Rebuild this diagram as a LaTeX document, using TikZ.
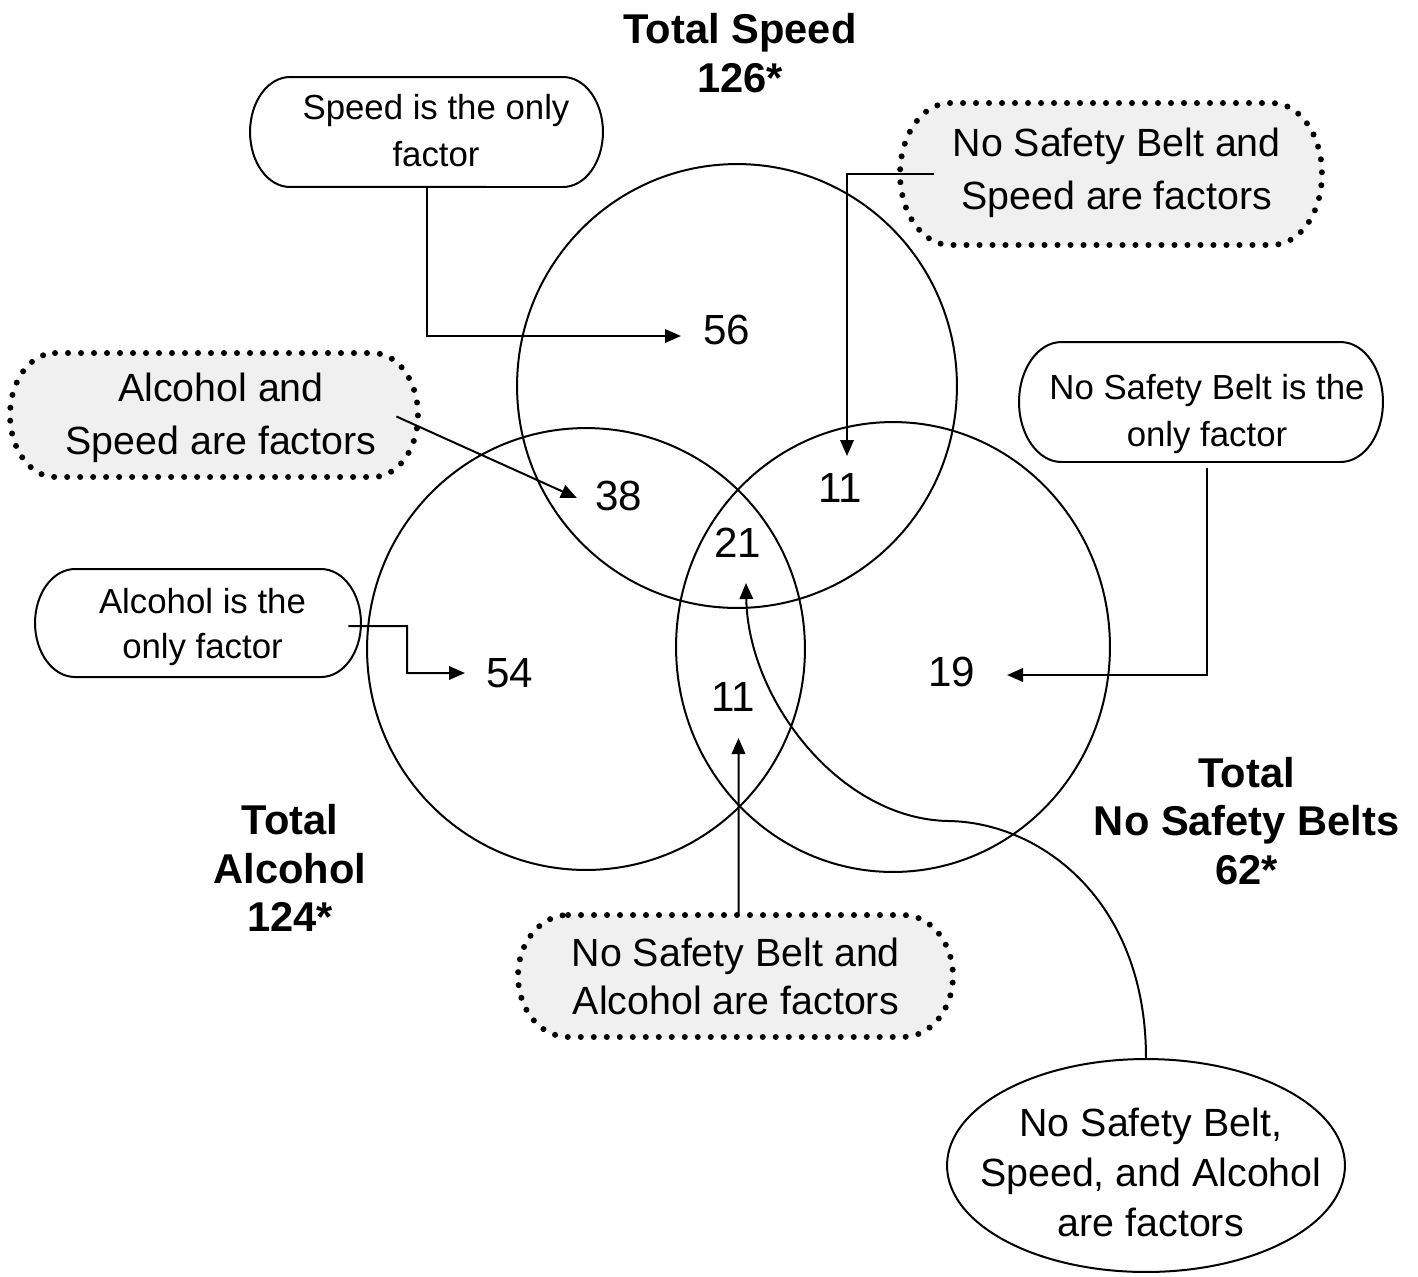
\documentclass[tikz,border=0pt]{standalone}
\usepackage{fontspec}
\setmainfont{Liberation Sans}
\usetikzlibrary{arrows.meta,shapes.geometric,backgrounds}
\definecolor{boxgray}{HTML}{F0F0F0}
\newcommand\mystadium[4]{%
  \draw[#1] ([xshift=#3]#2.north west) -- ([xshift=-#3]#2.north east)
    arc[start angle=90, end angle=-90, x radius=#3, y radius=#4]
    -- ([xshift=#3]#2.south west)
    arc[start angle=270, end angle=90, x radius=#3, y radius=#4] -- cycle;}
\tikzset{
  frame/.style={rectangle, inner sep=0pt, outer sep=0pt},
  solidframe/.style={draw=black, line width=0.04cm},
  dotframe/.style={draw=black, fill=boxgray, line width=0.12cm, line cap=round, dash pattern=on 0pt off 0.26cm},
  bigtext/.style={font=\fontsize{22.4pt}{30pt}\selectfont, align=center, inner sep=0pt},
  smalltext/.style={font=\fontsize{19.8pt}{26.6pt}\selectfont, align=center, inner sep=0pt},
  num/.style={font=\fontsize{24pt}{28pt}\selectfont, inner sep=0pt},
  total/.style={font=\fontsize{23.7pt}{27.5pt}\selectfont\bfseries, align=center, inner sep=0pt},
  venn/.style={draw=black, line width=0.04cm},
  conn/.style={draw=black, line width=0.04cm, -{Triangle[length=0.32cm,width=0.27cm]}},
}
\begin{document}
\begin{tikzpicture}[x=0.02cm, y=-0.02cm]
\useasboundingbox (0,0) rectangle (1418,1276);

% Venn circles
\coordinate (speedC) at (737,386);
\coordinate (alcC) at (586,649);
\coordinate (nsbC) at (893,647);
\draw[venn] (speedC) ellipse [x radius=4.40cm, y radius=4.44cm];
\draw[venn] (alcC) ellipse [x radius=4.38cm, y radius=4.42cm];
\draw[venn] (nsbC) ellipse [x radius=4.34cm, y radius=4.50cm];

% region numbers
\node[num] (n56) at (727,330) {56};
\node[num] (n38) at (619,496) {38};
\node[num] (n11a) at (840,488) {11};
\node[num] (n21) at (737.5,543) {21};
\node[num] (n54) at (510,673) {54};
\node[num] (n11b) at (733,697) {11};
\node[num] (n19) at (951.7,672) {19};

% totals
\node[total] (totspeed) at (740,53) {Total Speed\\126*};
\node[total] (totalc) at (290,868) {Total\\Alcohol\\124*};
\node[total] (totnsb) at (1246.7,821) {Total\\No Safety Belts\\62*};

% box geometry
\node[frame, minimum width=7.06cm, minimum height=2.2cm] (speedonly) at (426.5,132) {};
\node[frame, minimum width=8.44cm, minimum height=2.84cm] (nsbspeed) at (1111,174) {};
\node[frame, minimum width=8.16cm, minimum height=2.48cm] (alcspeed) at (214,415) {};
\node[frame, minimum width=7.28cm, minimum height=2.4cm] (nsbonly) at (1201,402) {};
\node[frame, minimum width=6.52cm, minimum height=2.16cm] (alconly) at (198,623) {};
\node[frame, minimum width=8.7cm, minimum height=2.44cm] (nsbalc) at (735.5,976) {};
\node[ellipse, draw=black, line width=0.04cm, inner sep=0pt, minimum width=7.96cm, minimum height=4.26cm] (allthree) at (1146,1165.5) {};

\begin{scope}[on background layer]
  \mystadium{solidframe}{speedonly}{0.8cm}{1.1cm}
  \mystadium{dotframe}{nsbspeed}{1.0cm}{1.42cm}
  \mystadium{dotframe}{alcspeed}{0.9cm}{1.24cm}
  \mystadium{solidframe}{nsbonly}{0.85cm}{1.2cm}
  \mystadium{solidframe}{alconly}{0.8cm}{1.08cm}
  \mystadium{dotframe}{nsbalc}{1.0cm}{1.22cm}
\end{scope}

% box texts
\node[smalltext] (speedonlytxt) at (436,130.5) {Speed is the only\\factor};
\node[bigtext] (nsbspeedtxt) at (1116.7,173) {No Safety Belt and\\Speed are factors};
\node[bigtext] (alcspeedtxt) at (221,418) {Alcohol and\\Speed are factors};
\node[smalltext] (nsbonlytxt) at (1207,414) {No Safety Belt is the\\only factor};
\node[smalltext, font=\fontsize{19.8pt}{25.5pt}\selectfont] (alconlytxt) at (202.5,626.7) {Alcohol is the\\only factor};
\node[bigtext, font=\fontsize{22.4pt}{27.2pt}\selectfont] (nsbalctxt) at (735.8,976.3) {No Safety Belt and\\Alcohol are factors};
\node[bigtext, font=\fontsize{22.4pt}{28.3pt}\selectfont] (allthreetxt) at (1150.8,1172.2) {No Safety Belt,\\Speed, and Alcohol\\are factors};

% arrow targets
\coordinate (t56) at (681,336);
\coordinate (t11a) at (847,456);
\coordinate (t38) at (577,498);
\coordinate (t19) at (1007,675);
\coordinate (b54) at (407,626);
\coordinate (t54) at (465,673);
\coordinate (t11b) at (738.5,738);
\coordinate (t21) at (746,583);

% connectors
\draw[conn] (speedonly.south) |- (t56);
\draw[conn] ([xshift=0.68cm]nsbspeed.west) -| (t11a);
\draw[conn] ([xshift=-0.43cm, yshift=-0.03cm]alcspeed.east) -- (t38);
\draw[conn] ([xshift=0.12cm, yshift=-0.12cm]nsbonly.south) |- (t19);
\draw[conn] ([xshift=-0.25cm, yshift=-0.06cm]alconly.east) -- (b54) |- (t54);
\draw[conn] ([xshift=0.06cm]nsbalc.north) -- (t11b);
\draw[conn] (allthree.north) .. controls (1146,900) and (1040,822) .. (948,821) .. controls (840,819) and (748,700) .. (t21);
\end{tikzpicture}
\end{document}
